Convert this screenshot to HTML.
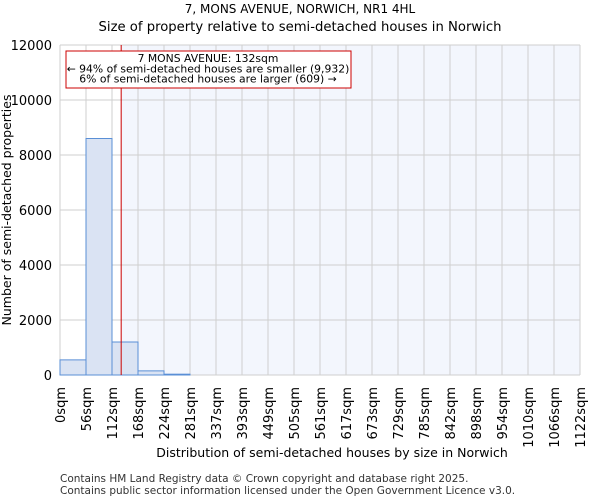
<!DOCTYPE html>
<html><head><meta charset="utf-8"><style>
body{margin:0;background:#fff;font-family:"DejaVu Sans","Liberation Sans",sans-serif;}
svg text{font-family:"DejaVu Sans","Liberation Sans",sans-serif;}
</style></head><body>
<svg id="chart" width="600" height="500" xmlns="http://www.w3.org/2000/svg">
<text x="300" y="13" text-anchor="middle" font-size="12">7, MONS AVENUE, NORWICH, NR1 4HL</text>
<text x="300" y="31" text-anchor="middle" font-size="13.2">Size of property relative to semi-detached houses in Norwich</text>
<g id="plot"></g>
<text x="332" y="457" text-anchor="middle" font-size="12.5">Distribution of semi-detached houses by size in Norwich</text>
<text transform="translate(11,210) rotate(-90)" text-anchor="middle" font-size="12.5">Number of semi-detached properties</text>
<text x="60" y="482" font-size="10.5" fill="#333">Contains HM Land Registry data © Crown copyright and database right 2025.</text>
<text x="60" y="494" font-size="10.5" fill="#333">Contains public sector information licensed under the Open Government Licence v3.0.</text>
</svg>
<script>
const binLabels=["0sqm","56sqm","112sqm","168sqm","224sqm","281sqm","337sqm","393sqm","449sqm","505sqm","561sqm","617sqm","673sqm","729sqm","785sqm","842sqm","898sqm","954sqm","1010sqm","1066sqm","1122sqm"];
const counts=[550,8600,1200,150,30,0,0,0,0,0,0,0,0,0,0,0,0,0,0,0];
const yTicks=[0,2000,4000,6000,8000,10000,12000];
const binWidth=56.1;
const propertySize=132;
const L=60,R=580,T=45,B=375,yMax=12000;
const NS="http://www.w3.org/2000/svg";
const g=document.getElementById('plot');
const nb=counts.length;
const xs=v=>L+(v/(binWidth*nb))*(R-L);
const xi=i=>L+i*(R-L)/nb;
const ys=v=>B-v/yMax*(B-T);
function mk(t,a){const e=document.createElementNS(NS,t);for(const k in a)e.setAttribute(k,a[k]);g.appendChild(e);return e;}
const px=xs(propertySize);
let sh=mk('rect',{x:px,y:T,width:R-px,height:B-T,fill:'#f3f6fd'});


for(let i=0;i<=nb;i++){let l=mk('line',{x1:xi(i),x2:xi(i),y1:T,y2:B,stroke:'#cfcfcf','stroke-width':1});

}
yTicks.forEach(v=>{let l=mk('line',{x1:L,x2:R,y1:ys(v),y2:ys(v),stroke:'#cfcfcf','stroke-width':1});


let t=mk('text',{x:L-8,y:ys(v)+5,'text-anchor':'end','font-size':13});t.textContent=v;

});
counts.forEach((c,i)=>{if(c<=0)return;let r=mk('rect',{x:xi(i),y:ys(c),width:xi(i+1)-xi(i),height:B-ys(c),fill:'#dae3f3',stroke:'#5a8fd6','stroke-width':1});

});
binLabels.forEach((s,i)=>{let t=mk('text',{transform:`translate(${xi(i)+5},${B+12}) rotate(-90)`,'text-anchor':'end','font-size':13});t.textContent=s;

});
let pl=mk('line',{x1:px,x2:px,y1:T,y2:B,stroke:'#cc0000','stroke-width':1});


let bx=mk('rect',{x:66,y:51,width:285,height:37,fill:'#fff',stroke:'#cc0000','stroke-width':1});


["7 MONS AVENUE: 132sqm","← 94% of semi-detached houses are smaller (9,932)","6% of semi-detached houses are larger (609) →"].forEach((s,i)=>{let t=mk('text',{x:208,y:62+i*10.3,'text-anchor':'middle','font-size':10.8});t.textContent=s;

});
</script>
</body></html>
